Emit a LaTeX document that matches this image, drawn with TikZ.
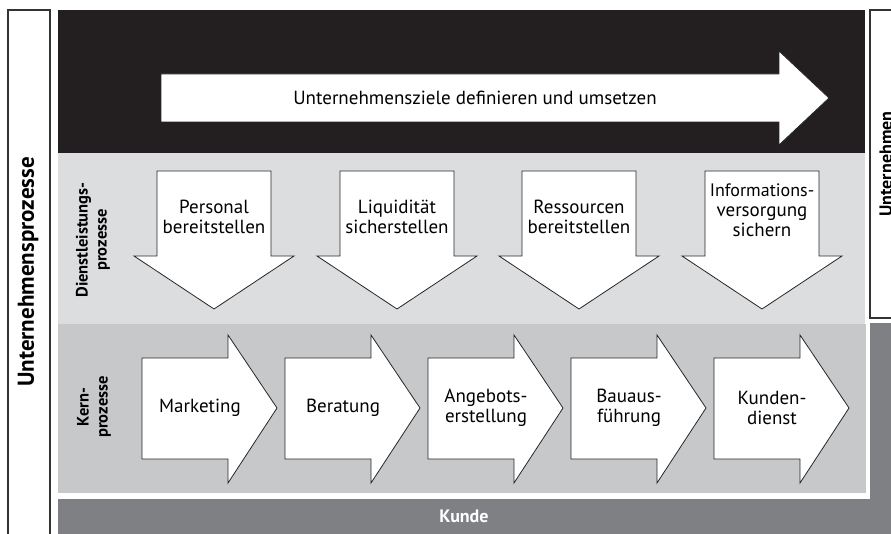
\documentclass[tikz,border=0pt]{standalone}
\usepackage{fontspec}
\setmainfont{PT Sans}
\usetikzlibrary{calc}
\usepackage{xcolor}
\definecolor{bandschwarz}{HTML}{231F20}
\definecolor{bandhell}{HTML}{DCDDDF}
\definecolor{bandmittel}{HTML}{C7C8CA}
\definecolor{banddunkel}{HTML}{7F8083}
\tikzset{
  pfeil/.style={draw=black!85,fill=white,line width=0.8pt},
  pfeiltext/.style={align=center,inner sep=0pt,font=\fontsize{19}{20}\selectfont},
  seitentext/.style={rotate=90,align=center,inner sep=0pt,font=\bfseries\fontsize{16.5}{19}\selectfont},
}
\newcommand\dlpfeil[4]{% Name, linke Kante, Hoehe Text, Text
  \draw[pfeil] (#2,171) -- ++(114,0) -- ++(0,85) -- ++(23,0) -- ++(-80,53) -- ++(-80,-53) -- ++(23,0) -- cycle;
  \node[pfeiltext] (#1) at ({#2+57},#3) {#4};
}
\newcommand\kernpfeil[3]{% Name, linke Kante, Text
  \draw[pfeil] (#2,358) -- ++(86,0) -- ++(0,-23) -- ++(49,73) -- ++(-49,75) -- ++(0,-24) -- ++(-86,0) -- cycle;
  \node[pfeiltext] (#1) at ({#2+58},408) {#3};
}

\begin{document}
\begin{tikzpicture}[x=1pt,y=-1pt]
\path[use as bounding box,clip] (0,0) rectangle (891,534);
\fill[white] (0,0) rectangle (891,534);
% Baender
\fill[bandschwarz] (58,10) rectangle (865,153);
\fill[bandhell] (58,153) rectangle (865,324);
\fill[bandmittel] (58,324) rectangle (866,493);
\fill[banddunkel] (58,499) rectangle (891,540);
\fill[banddunkel] (870,323) rectangle (891,540);
% Rahmen links und rechts
\draw[black!80,line width=1.2pt] (8,10) rectangle (50,545);
\draw[black!80,line width=1.2pt] (870,10) rectangle (905,318);
\node[seitentext,font=\bfseries\fontsize{23}{25}\selectfont] (prozesse) at (28,272) {Unternehmensprozesse};
\node[seitentext,font=\bfseries\fontsize{18}{20}\selectfont,anchor=base] (umwelt) at (892,164) {Unternehmen};
\node[seitentext] (dienstlabel) at (93,240) {Dienstleistungs-\\prozesse};
\node[seitentext] (kernlabel) at (94,407) {Kern-\\prozesse};
% Ziel
\draw[pfeil] (161,74) -- (779,74) -- (779,51) -- (829,98) -- (779,145) -- (779,122) -- (161,122) -- cycle;
\node[pfeiltext] (ziel) at (475,98) {Unternehmensziele definieren und umsetzen};
% Dienstleistungsprozesse
\dlpfeil{personal}{157}{217}{Personal\\bereitstellen}
\dlpfeil{liquiditaet}{340}{217}{Liquidität\\sicherstellen}
\dlpfeil{ressourcen}{522}{217}{Ressourcen\\bereitstellen}
\dlpfeil{information}{705}{210}{\fontsize{18}{20}\selectfont Informations-\\versorgung\\sichern}
% Kernprozesse
\kernpfeil{marketing}{142}{Marketing}
\kernpfeil{beratung}{285}{Beratung}
\kernpfeil{angebot}{428}{Angebots-\\erstellung}
\kernpfeil{bauausfuehrung}{571}{Bauaus-\\führung}
\kernpfeil{kundendienst}{714}{Kunden-\\dienst}
\node[seitentext,rotate=-90,text=white,font=\bfseries\fontsize{18}{20}\selectfont] (kunde) at (464,516) {Kunde};
\end{tikzpicture}
\end{document}
